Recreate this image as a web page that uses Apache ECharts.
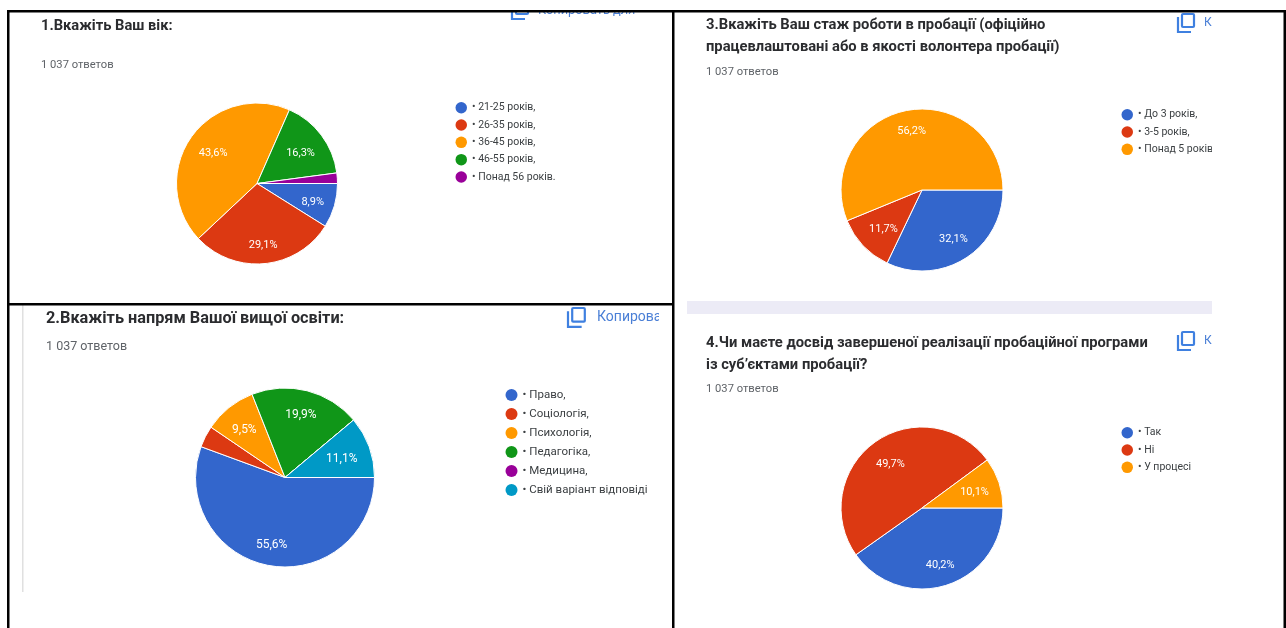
<!DOCTYPE html>
<html><head><meta charset="utf-8">
<style>html,body{margin:0;padding:0;background:#fff}#c{width:1286px;height:628px}</style>
<script src="https://cdn.jsdelivr.net/npm/echarts@6/dist/echarts.min.js"></script>
</head><body><div id="c"></div>
<script>
const BLUE='#3366cc',RED='#dc3912',ORANGE='#ff9900',GREEN='#109618',PURPLE='#990099',TEAL='#0099c6';
const ages=['• 21-25 років,','• 26-35 років,','• 36-45 років,','• 46-55 років,','• Понад 56 років.'];
const ageValues=[8.9,29.1,43.6,16.3,2.1];
const fields=['• Право,','• Соціологія,','• Психологія,','• Педагогіка,','• Медицина,','• Свій варіант відповіді'];
const fieldValues=[55.6,3.9,9.5,19.9,0,11.1];
const tenure=['• До 3 років,','• 3-5 років,','• Понад 5 років'];
const tenureValues=[32.1,11.7,56.2];
const done=['• Так','• Ні','• У процесі'];
const doneValues=[40.2,49.7,10.1];
const font='Roboto, "Liberation Sans", Arial, sans-serif';
const charts=[
 {names:ages,values:ageValues,colors:[BLUE,RED,ORANGE,GREEN,PURPLE],c:[257,183.5],r:80.5,lx:455.5,ly:102,step:17.3,sym:11.5,fs:11,lf:10.5,nudge:[[-2,-2],[0,3],[1,0],[-7,10],[0,0]]},
 {names:fields,values:fieldValues,colors:[BLUE,RED,ORANGE,GREEN,PURPLE,TEAL],c:[285,477.5],r:89.5,lx:505.5,ly:389,step:19,sym:12,fs:12,lf:11.5,nudge:[[-5,9],[0,0],[4,6],[-3,2],[0,0],[-6,9]]},
 {names:tenure,values:tenureValues,colors:[BLUE,RED,ORANGE],c:[922,190],r:81,lx:1121.5,ly:109,step:17.3,sym:11.5,fs:11,lf:10.5,nudge:[[-1,-4],[8,-5],[-2,-6]]},
 {names:done,values:doneValues,colors:[BLUE,RED,ORANGE],c:[922,508],r:81,lx:1121.5,ly:427,step:17.3,sym:11.5,fs:11,lf:10.5,nudge:[[2,0],[-3,-2],[-5,7]]}
];
const RADIAL=1.4;
const texts=[
 ['1.Вкажіть Ваш вік:',41,26,'bold 14.7px','#2b2c2f'],
 ['1 037 ответов',41,65.5,'11.2px','#5f6368'],
 ['2.Вкажіть напрям Вашої вищої освіти:',46,319,'bold 16.3px','#2b2c2f'],
 ['1 037 ответов',46,347,'12.5px','#5f6368'],
 ['3.Вкажіть Ваш стаж роботи в пробації (офіційно',706,25,'bold 14.75px','#2b2c2f'],
 ['працевлаштовані або в якості волонтера пробації)',706,47,'bold 14.75px','#2b2c2f'],
 ['1 037 ответов',706,72,'11.2px','#5f6368'],
 ['4.Чи маєте досвід завершеної реалізації пробаційної програми',706,343,'bold 14.75px','#2b2c2f'],
 ['із суб’єктами пробації?',706,365,'bold 14.75px','#2b2c2f'],
 ['1 037 ответов',706,389.5,'11.2px','#5f6368'],
 ['Копировать для',538,11,'12.8px','#4a7fd6'],
 ['Копирова',597,317,'14px','#4a7fd6'],
 ['К',1204,23,'12px','#4a7fd6'],
 ['К',1204,341,'12px','#4a7fd6']
];
const icons=[[512,1,1],[568,308,1.05],[1178,14,1],[1178,332,1]];
const g=[];
const rect=(x,y,w,h,fill,z)=>({type:'rect',silent:true,z:z,shape:{x,y,width:w,height:h},style:{fill}});
g.push(rect(687,301,525,13,'#ecebf6',1));
g.push(rect(22,304,1.5,288,'#e0e0e0',1));
texts.forEach(t=>g.push({type:'text',silent:true,z:5,x:t[1],y:t[2],style:{text:t[0],font:t[3]+' '+font,fill:t[4],textVerticalAlign:'middle',verticalAlign:'middle'}}));
icons.forEach(i=>{const [x,y,s]=i;
 g.push({type:'rect',silent:true,z:5,shape:{x:x+4*s,y:y,width:12*s,height:13*s,r:1},style:{fill:'none',stroke:'#3f80e0',lineWidth:2.2}});
 g.push({type:'polyline',silent:true,z:5,shape:{points:[[x,y+3*s],[x,y+18*s],[x+13*s,y+18*s]]},style:{fill:'none',stroke:'#3f80e0',lineWidth:2.2}});
});
g.push(rect(0,0,1286,10,'#fff',50));
g.push(rect(659,306,13,40,'#fff',50));
g.push(rect(1212,14,70,612,'#fff',50));
[[7,10,1279,2.5],[7,10,2.5,618],[672,10,2.5,618],[7,303,667,2.5],[1283.5,10,2.5,618]].forEach(b=>g.push(rect(b[0],b[1],b[2],b[3],'#000',60)));

const series=charts.map(ch=>({
 type:'pie',center:ch.c,radius:[0,ch.r],startAngle:0,clockwise:true,silent:true,animation:false,avoidLabelOverlap:false,
 stillShowZeroSum:false,minShowLabelAngle:20,
 itemStyle:{borderColor:'#fff',borderWidth:1},
 label:{show:true,position:'inside',color:'#fff',fontFamily:font,fontSize:ch.fs,formatter:p=>p.value.toFixed(1).replace('.',',')+'%'},
 labelLine:{show:false},
 labelLayout:p=>{const r=p.rect,cx=r.x+r.width/2,cy=r.y+r.height/2,n=ch.nudge[p.dataIndex];
  return {dx:(cx-ch.c[0])*(RADIAL-1)+n[0],dy:(cy-ch.c[1])*(RADIAL-1)+n[1]};},
 data:ch.names.map((n,i)=>({name:n,value:ch.values[i],itemStyle:{color:ch.colors[i]}}))
}));
const legend=charts.map(ch=>({
 orient:'vertical',left:ch.lx,top:ch.ly,padding:0,itemGap:ch.step-ch.sym,itemWidth:ch.sym,itemHeight:ch.sym,icon:'circle',selectedMode:false,
 itemStyle:{borderWidth:0},
 textStyle:{fontFamily:font,fontSize:ch.lf,color:'#3c4043'},data:ch.names
}));
echarts.init(document.getElementById('c')).setOption({animation:false,backgroundColor:'#fff',legend,series,graphic:{elements:g}});
</script></body></html>
